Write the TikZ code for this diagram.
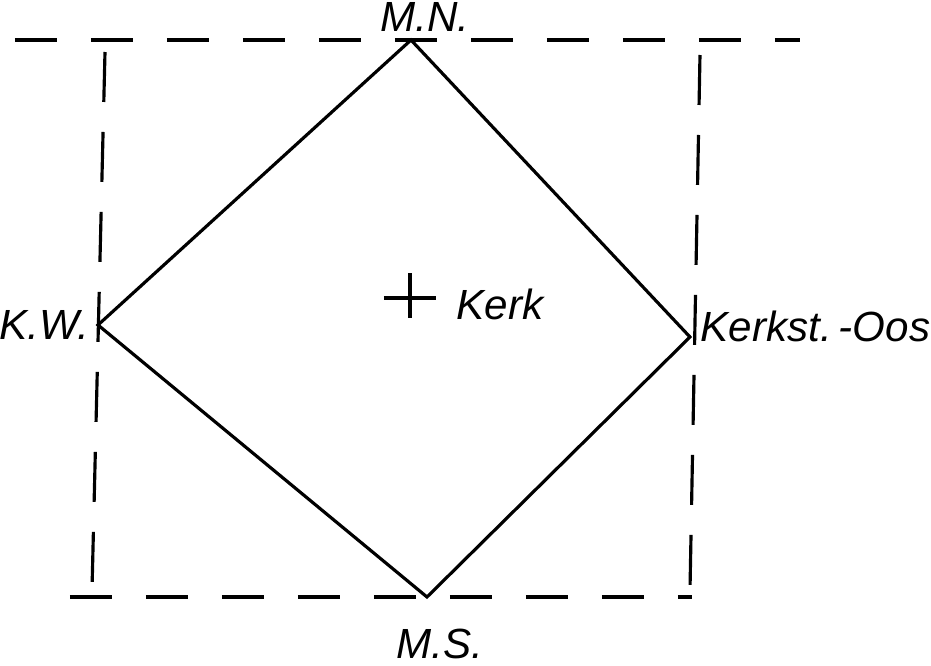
\documentclass[tikz,border=0pt]{standalone}
\usepackage{fontspec}
\setmainfont{Liberation Sans}
\usetikzlibrary{positioning,calc}

\begin{document}
\begin{tikzpicture}[line width=0.9pt, font=\large\itshape,
    frame/.style={dash pattern=on 0.42cm off 0.34cm},
    vframe/.style={dash pattern=on 0.5cm off 0.3cm},
    lbl/.style={inner sep=0pt}]
  \useasboundingbox (0,0) rectangle (9.31,6.66);
  % ---------------- corners of the square ----------------
  \coordinate (MN) at (4.11,6.26);
  \coordinate (KW) at (0.98,3.41);
  \coordinate (KO) at (6.90,3.29);
  \coordinate (MS) at (4.27,0.69);
  \draw (MN) -- (KO) -- (MS) -- (KW) -- cycle;
  % ---------------- dashed frame ----------------
  \coordinate (TL) at (0.15,6.26);
  \coordinate (TR) at (8.00,6.26);
  \coordinate (BL) at (0.70,0.69);
  \coordinate (BR) at (6.92,0.69);
  \draw[frame] (TL) -- (TR);
  \draw[frame] (BL) -- (BR);
  \draw[vframe] (1.05,6.14) -- (0.92,0.76);
  \draw[vframe] (7.00,6.11) -- (6.90,0.76);
  % ---------------- labels ----------------
  \node[lbl] (mn) at (4.25,6.49) {M.N.};
  \node[lbl, left=0.07cm of KW] (kw) {K.W.};
  \node[lbl, anchor=west] (ko) at (6.99,3.40) {Kerkst.\,-Oos};
  \node[lbl] (ms) at (4.40,0.22) {M.S.};
  % the church
  \coordinate (C) at (4.10,3.68);
  \draw[line width=1.1pt] ($(C)+(-0.26,0)$) -- ($(C)+(0.26,0)$);
  \draw[line width=1.1pt] ($(C)+(0,0.25)$) -- ($(C)+(0,-0.2)$);
  \node[lbl, anchor=west] (kerk) at (4.55,3.62) {Kerk};
\end{tikzpicture}
\end{document}
